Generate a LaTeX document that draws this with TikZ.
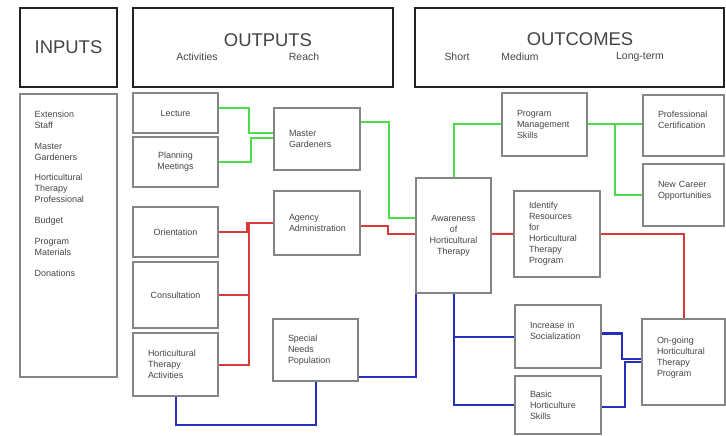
\documentclass[tikz,border=0pt]{standalone}
\usepackage{fontspec}
\setmainfont{Liberation Sans}
\usepackage{xcolor}
\usepackage{tikz}
\usetikzlibrary{calc}
\definecolor{headBlack}{HTML}{222222}
\definecolor{boxGray}{HTML}{858585}
\definecolor{textGray}{HTML}{454545}
\definecolor{linkGreen}{HTML}{4CDC4C}
\definecolor{linkRed}{HTML}{D83A3A}
\definecolor{linkBlue}{HTML}{2430B8}
\newcommand{\boxfont}{\fontsize{9}{11}\selectfont}
\newcommand{\headfont}{\fontsize{18.5}{22}\selectfont}
\newcommand{\subfont}{\fontsize{10.5}{12}\selectfont}
\tikzset{
  box/.style={draw=boxGray, line width=1.1bp, inner xsep=15bp, inner ysep=0pt, font=\boxfont, text=textGray, align=left},
  midbox/.style={box, align=center},
  head/.style={draw=headBlack, line width=2.4bp, inner sep=0pt, font=\headfont, text=headBlack!85},
  sublabel/.style={font=\subfont, text=textGray, inner sep=0pt},
  grnline/.style={draw=linkGreen, line width=2bp},
  redline/.style={draw=linkRed, line width=2bp},
  bluline/.style={draw=linkBlue, line width=2bp}
}

\begin{document}
\begin{tikzpicture}[x=1bp, y=-1bp]
  \useasboundingbox (0,0) rectangle (726,436);

  % Headers
  \node[head, minimum width=97bp, minimum height=79bp] (inhead) at (68.5,47.5) {INPUTS};
  \node[head, minimum width=260bp, minimum height=79bp] (outhead) at (263,47.5) {};
  \node[head, minimum width=309bp, minimum height=79bp] (ochead) at (569.5,47.5) {};
  \node[font=\headfont, text=headBlack!85, inner sep=0pt] (outtitle) at (268,40) {OUTPUTS};
  \node[sublabel] (activities) at (197,57) {Activities};
  \node[sublabel] (reach) at (304,57) {Reach};
  \node[font=\headfont, text=headBlack!85, inner sep=0pt] (octitle) at (580,39) {OUTCOMES};
  \node[sublabel] (short) at (457,57) {Short};
  \node[sublabel] (medium) at (520,57) {Medium};
  \node[sublabel] (longterm) at (640,57) {Long-term};

  % Inputs
  \node[box, minimum width=97bp, minimum height=283bp, inner xsep=0pt] (inlist) at (68.5,235.5) {};
  \node[font=\boxfont, text=textGray, align=left, inner sep=0pt, anchor=north west] (inputs) at ([xshift=15bp,yshift=-17bp]inlist.north west)
    {Extension\\Staff\\[10bp]Master\\Gardeners\\[10bp]Horticultural\\Therapy\\Professional\\[10bp]Budget\\[10bp]Program\\Materials\\[10bp]Donations};

  % Activities
  \node[midbox, text width=55bp, minimum height=40bp] (lect) at (175.5,113) {Lecture};
  \node[midbox, text width=55bp, minimum height=50bp] (plan) at (175.5,162) {Planning\\Meetings};
  \node[midbox, text width=55bp, minimum height=50bp] (orient) at (175.5,232) {Orientation};
  \node[midbox, text width=55bp, minimum height=66bp] (consult) at (175.5,295) {Consultation};
  \node[box, text width=55bp, minimum height=63bp] (hta) at (175.5,364.5) {Horticultural\\Therapy\\Activities};

  % Reach
  \node[box, text width=56bp, minimum height=62bp] (mg) at (317,139) {Master\\Gardeners};
  \node[box, text width=56bp, minimum height=64bp] (agency) at (317,223) {Agency\\Administration};
  \node[box, text width=55bp, minimum height=62bp] (special) at (315.5,350) {Special\\Needs\\Population};

  % Outcomes
  \node[midbox, text width=60bp, inner xsep=7.5bp, minimum height=115bp] (aware) at (453.5,235.5) {Awareness\\of\\Horticultural\\Therapy};
  \node[box, text width=55bp, minimum height=63bp] (pms) at (544.5,124.5) {Program\\Management\\Skills};
  \node[box, text width=56bp, minimum height=86bp] (ident) at (557,234) {Identify\\Resources\\for\\Horticultural\\Therapy\\Program};
  \node[box, text width=56bp, minimum height=63bp] (social) at (558,336.5) {Increase in\\Socialization\\~};
  \node[box, text width=56bp, minimum height=58bp] (basic) at (558,405) {Basic\\Horticulture\\Skills};
  \node[box, text width=51bp, minimum height=61bp] (cert) at (683.5,125.5) {Professional\\Certification\\~};
  \node[box, text width=51bp, minimum height=62bp] (career) at (683.5,195) {New Career\\Opportunities\\~};
  \node[box, text width=53bp, minimum height=86bp] (ongoing) at (683.5,362) {On-going\\Horticultural\\Therapy\\Program\\~};

  % Green links
  \draw[grnline] ([yshift=5bp]lect.east) -- ++(30,0) |- ([yshift=6bp]mg.west);
  \draw[grnline] (plan.east) -- ++(32,0) |- ([yshift=1bp]mg.west);
  \draw[grnline] ([yshift=17bp]mg.east) -- ++(28,0) |- ([yshift=17.5bp]aware.west);
  \draw[grnline] (aware.north) |- (pms.west);
  \draw[grnline] (pms.east) -- (pms.east -| cert.west);
  \draw[grnline] ([xshift=27bp]pms.east) |- (career.west);

  % Red links
  \draw[redline] (orient.east) -- ++(28,0) |- (agency.west);
  \draw[redline] (consult.east) -- ++(30,0) |- (agency.west);
  \draw[redline] (hta.east) -- ++(30,0) |- (agency.west);
  \draw[redline] ([yshift=-3bp]agency.east) -- ++(27,0) |- ([yshift=1.5bp]aware.west);
  \draw[redline] ([yshift=1.5bp]aware.east) -- (ident.west);
  \draw[redline] (ident.east) -| (ongoing.north);

  % Blue links
  \draw[bluline] (hta.south) -- ++(0,28) -| (special.south);
  \draw[bluline] ([yshift=-27bp]special.east) -| ([xshift=1bp]aware.south west);
  \draw[bluline] (aware.south) |- (basic.west);
  \draw[bluline] (aware.south) |- (social.west);
  \draw[bluline] ([yshift=3bp]social.east) -- ++(20,0) |- ([yshift=3bp]ongoing.west);
  \draw[bluline] ([yshift=-2bp]basic.east) -- ++(23,0) |- (ongoing.west);
\end{tikzpicture}
\end{document}
